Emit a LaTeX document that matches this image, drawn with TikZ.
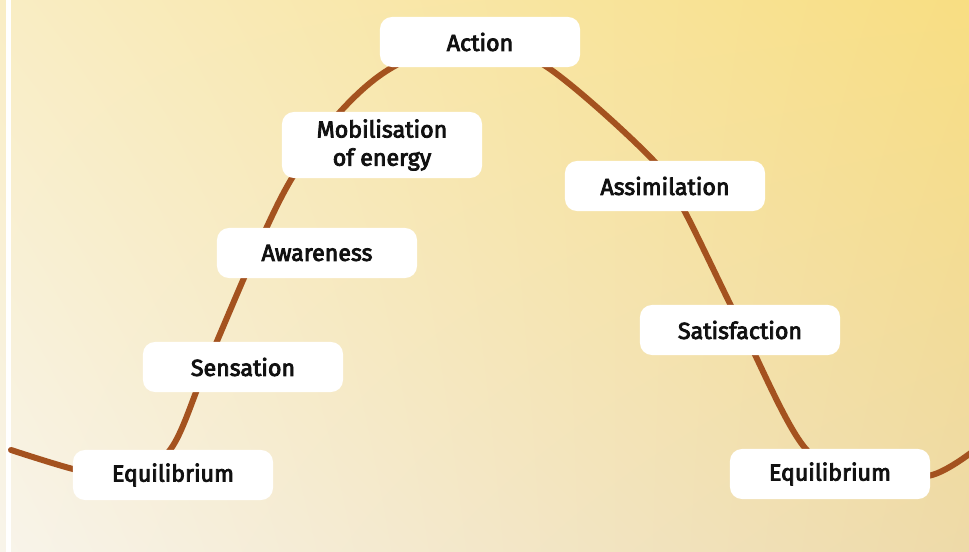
\documentclass[tikz,border=0pt]{standalone}
\usepackage{fontspec}
\setmainfont{Fira Sans}
\newfontfamily\stagefont{Fira Sans}[FakeBold=3.5]
\usepackage{tikz}
\usetikzlibrary{positioning, shadings}
\definecolor{wavecolor}{RGB}{164, 82, 31}
\definecolor{labelcolor}{RGB}{17, 17, 17}
\definecolor{bgtopleft}{RGB}{249, 237, 196}
\definecolor{bgtopright}{RGB}{248, 222, 130}
\definecolor{bgbottomleft}{RGB}{248, 244, 234}
\definecolor{bgbottomright}{RGB}{238, 218, 168}

\begin{document}
\begin{tikzpicture}[x=0.025cm, y=-0.025cm,
    stage/.style={fill=white, rounded corners=0.3cm, minimum width=5cm, minimum height=1.25cm,
        inner sep=0pt, align=center, text=labelcolor,
        font=\stagefont\fontsize{16.5}{20}\selectfont}]
    \useasboundingbox (0, 0) rectangle (969, 552);

    % Background
    \shade[upper left=bgtopleft, upper right=bgtopright,
        lower left=bgbottomleft, lower right=bgbottomright] (0, 0) rectangle (969, 552);
    \fill[white] (6, 0) rectangle (10.5, 552);

    % Wave
    \draw[wavecolor, line width=0.15cm, line cap=round] plot[smooth, tension=0.55] coordinates {
        (11, 450) (73, 469) (122, 478) (170, 450) (206, 367) (255, 253) (292, 178)
        (340, 112) (393, 67) (470, 38) (547, 67) (653, 160) (685, 212) (743, 330)
        (805, 448) (868, 480) (932, 475) (972, 452)};

    % Stages
    \node[stage] (action) at (480, 42) {Action};
    \node[stage, minimum height=1.65cm] (mobilisation) at (382, 145) {Mobilisation\\of energy};
    \node[stage] (assimilation) at (665, 186) {Assimilation};
    \node[stage] (awareness) at (317, 253) {Awareness};
    \node[stage] (satisfaction) at (740, 330) {Satisfaction};
    \node[stage] (sensation) at (243, 367) {Sensation};
    \node[stage] (equilibriumL) at (173, 475) {Equilibrium};
    \node[stage] (equilibriumR) at (830, 474) {Equilibrium};

\end{tikzpicture}
\end{document}
